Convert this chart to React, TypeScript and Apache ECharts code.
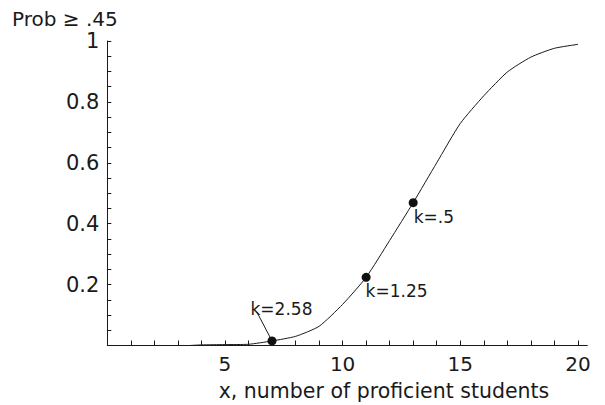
import React, { useEffect, useRef } from "react";
import * as echarts from "echarts";

// Curve: probability vs x (number of proficient students)
const curveX = [3.5, 4, 5, 6, 7, 8, 9, 10, 11, 12, 13, 14, 15, 16, 17, 18, 19, 20];
const curveY = [0, 0.002, 0.003, 0.004, 0.015, 0.03, 0.063, 0.135, 0.224, 0.345, 0.469, 0.6, 0.729, 0.82, 0.898, 0.947, 0.976, 0.989];

// Marked points with their k labels
const markX = [7, 11, 13];
const markY = [0.015, 0.224, 0.469];
const markLabels = ["k=2.58", "k=1.25", "k=.5"];

// Leader line from the k=2.58 point to its label
const leaderX = [7, 6.35];
const leaderY = [0.015, 0.111];

// Ticks and tick labels
const xTickValues = [1, 2, 3, 4, 5, 6, 7, 8, 9, 10, 11, 12, 13, 14, 15, 16, 17, 18, 19, 20];
const xLabelValues = [5, 10, 15, 20];
const yTickValues = [0.05, 0.1, 0.15, 0.2, 0.25, 0.3, 0.35, 0.4, 0.45, 0.5, 0.55, 0.6, 0.65, 0.7, 0.75, 0.8, 0.85, 0.9, 0.95, 1];
const yLabelValues = [0.2, 0.4, 0.6, 0.8, 1];

const titleText = "Prob \u2265 .45";
const xAxisTitle = "x, number of proficient students";

const FONT = "DejaVu Sans";
const INK = "#1a1a1a";

export default function App() {
  const ref = useRef<HTMLDivElement>(null);

  useEffect(() => {
    document.body.style.margin = "0";
    if (!ref.current) return;
    const chart = echarts.init(ref.current, null, { renderer: "svg" });

    const labelPos: Record<string, number[]> = {
      "k=2.58": [-17, -27.5],
      "k=1.25": [4, 18],
      "k=.5": [5, 19],
    };

    chart.setOption({
      animation: false,
      backgroundColor: "#ffffff",
      title: {
        text: titleText,
        left: 12,
        top: 8,
        padding: 0,
        textStyle: { fontFamily: FONT, fontSize: 20, lineHeight: 22, fontWeight: "normal", color: INK },
      },
      grid: { left: 107.3, right: 17.7, top: 41, bottom: 59.5, containLabel: false },
      xAxis: {
        type: "value",
        min: 0,
        max: 20.4,
        axisLine: { show: true, onZero: false, lineStyle: { color: INK, width: 1 } },
        axisTick: { show: true, inside: true, length: 5, customValues: xTickValues, lineStyle: { color: INK, width: 1 } },
        axisLabel: {
          show: true,
          customValues: xLabelValues,
          margin: 8,
          fontFamily: FONT,
          fontSize: 20,
          color: INK,
        },
        splitLine: { show: false },
      },
      yAxis: {
        type: "value",
        min: 0,
        max: 1,
        axisLine: { show: true, onZero: false, lineStyle: { color: INK, width: 1 } },
        axisTick: { show: true, inside: true, length: 4, customValues: yTickValues, lineStyle: { color: INK, width: 1 } },
        axisLabel: {
          show: true,
          customValues: yLabelValues,
          margin: 8,
          fontFamily: FONT,
          fontSize: 21,
          lineHeight: 18,
          color: INK,
        },
        splitLine: { show: false },
      },
      graphic: [
        {
          type: "text",
          x: 384,
          y: 390.5,
          style: {
            text: xAxisTitle,
            fontFamily: FONT,
            fontSize: 20.5,
            fill: INK,
            textAlign: "center",
            textVerticalAlign: "middle",
          },
        },
      ],
      series: [
        {
          type: "line",
          data: curveX.map((x, i) => [x, curveY[i]]),
          symbol: "none",
          smooth: 0.2,
          lineStyle: { color: INK, width: 1 },
          z: 2,
        },
        {
          type: "line",
          data: leaderX.map((x, i) => [x, leaderY[i]]),
          symbol: "none",
          lineStyle: { color: INK, width: 1 },
          z: 2,
        },
        {
          type: "scatter",
          symbol: "circle",
          symbolSize: 9,
          itemStyle: { color: "#111111", opacity: 1 },
          z: 3,
          data: markX.map((x, i) => ({
            value: [x, markY[i]],
            label: {
              show: true,
              formatter: markLabels[i],
              position: labelPos[markLabels[i]],
              align: "left",
              verticalAlign: "middle",
              fontFamily: FONT,
              fontSize: 17,
              color: INK,
            },
          })),
        },
      ],
    });

    return () => {
      chart.dispose();
    };
  }, []);

  return <div ref={ref} style={{ width: 605, height: 405 }} />;
}
